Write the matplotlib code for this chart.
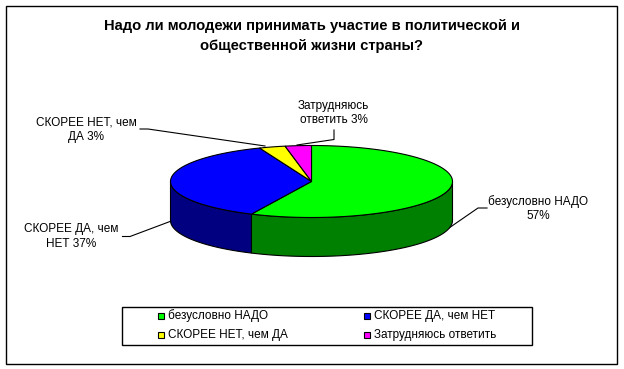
import numpy as np
import matplotlib
matplotlib.use("Agg")
import matplotlib.pyplot as plt
from matplotlib.patches import Polygon, Rectangle

title_lines = "Надо ли молодежи принимать участие в политической и\nобщественной жизни страны?"
categories = ["безусловно НАДО", "СКОРЕЕ ДА, чем НЕТ", "СКОРЕЕ НЕТ, чем ДА", "Затрудняюсь ответить"]
values = [57, 37, 3, 3]
top_colors = ["#00ff00", "#0000ff", "#ffff00", "#ff00ff"]
side_colors = ["#008000", "#000080", "#808000", "#800080"]
label_texts = ["безусловно НАДО\n57%", "СКОРЕЕ ДА, чем\nНЕТ 37%", "СКОРЕЕ НЕТ, чем\nДА 3%", "Затрудняюсь\nответить 3%"]

plt.rcParams['font.family'] = ['Liberation Sans', 'DejaVu Sans']

# оси в пикселях картинки
fig = plt.figure(figsize=(6.24, 3.69), dpi=100)
ax = fig.add_axes([0, 0, 1, 1])
ax.set_xlim(0, 624)
ax.set_ylim(369, 0)
ax.axis("off")

cx, cy, rx, ry, depth = 311.5, 181.5, 141, 36, 39

def ell(a):
    # угол считаем от 12 часов по часовой
    a = np.radians(a)
    return cx + rx * np.sin(a), cy - ry * np.cos(a)

ax.add_patch(Rectangle((5.5, 5.5), 611.5, 358, fc="white", ec="black", lw=1))

edges = np.cumsum([0] + values) / sum(values) * 360

# боковая стенка, только передняя половина
for i in range(len(values)):
    a0, a1 = max(edges[i], 90), min(edges[i + 1], 270)
    if a1 <= a0:
        continue
    t = np.linspace(a0, a1, 80)
    x, y = ell(t)
    pts = np.r_[np.c_[x, y], np.c_[x[::-1], y[::-1] + depth]]
    ax.add_patch(Polygon(pts, fc=side_colors[i], ec="black", lw=0.8, zorder=2))

# верх
for i in range(len(values)):
    t = np.linspace(edges[i], edges[i + 1], 120)
    x, y = ell(t)
    pts = np.r_[[[cx, cy]], np.c_[x, y]]
    ax.add_patch(Polygon(pts, fc=top_colors[i], ec="black", lw=0.8, zorder=3))

ax.text(311.5, 36, title_lines, ha="center", va="center", fontsize=10.65, fontweight="bold", linespacing=1.5)

# подписи и выноски
fs = 8.45
ax.text(538.5, 208.5, label_texts[0], ha="center", va="center", fontsize=fs, linespacing=1.3)
ax.text(71.5, 236.5, label_texts[1], ha="center", va="center", fontsize=fs, linespacing=1.3)
ax.text(86.5, 129.5, label_texts[2], ha="center", va="center", fontsize=fs, linespacing=1.3)
ax.text(333.5, 113, label_texts[3], ha="center", va="center", fontsize=fs, linespacing=1.3)
ax.plot([449, 478, 487], [228, 208, 208], color="black", lw=0.8, zorder=1)
ax.plot([170, 130, 122.5], [221.5, 236.5, 236.5], color="black", lw=0.8, zorder=1)
ax.plot([265, 148, 140], [146, 129, 129], color="black", lw=0.8, zorder=1)
ax.plot([297, 334, 334], [145, 139.5, 130], color="black", lw=0.8, zorder=1)

# легенда
ax.add_patch(Rectangle((121.5, 306.5), 410, 38, fc="white", ec="black", lw=1))
for i, (lx, ly) in enumerate([(157.5, 316), (363.5, 316), (157.5, 335), (363.5, 335)]):
    ax.add_patch(Rectangle((lx, ly - 3), 6.5, 6, fc=top_colors[i], ec="black", lw=0.8))
    ax.text(lx + 10.5, ly, categories[i], ha="left", va="center", fontsize=fs)

fig.savefig("out.png", dpi=100)
